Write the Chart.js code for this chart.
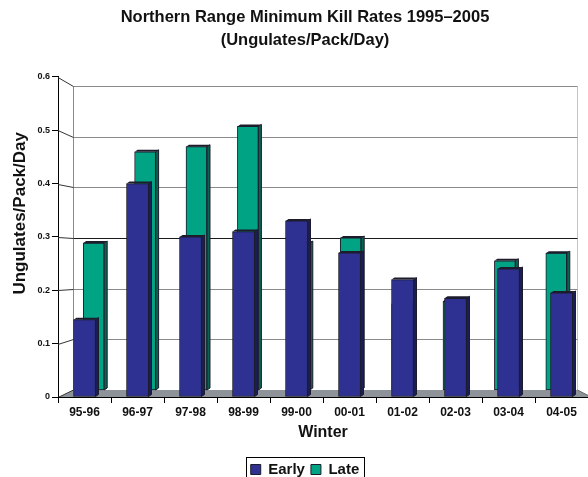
<!DOCTYPE html>
<html><head><meta charset="utf-8">
<script src="https://cdn.jsdelivr.net/npm/chart.js@4/dist/chart.umd.min.js"></script>
<style>html,body{margin:0;padding:0;background:#fff}</style>
</head><body>
<canvas id="c" width="588" height="477"></canvas>
<script>
// ---- data ----
const winters = ['95-96','96-97','97-98','98-99','99-00','00-01','01-02','02-03','03-04','04-05'];
const earlyRates = [0.145, 0.40, 0.30, 0.31, 0.33, 0.27, 0.22, 0.185, 0.24, 0.195];
const lateRates  = [0.29, 0.47, 0.48, 0.52, 0.29, 0.30, 0.17, 0.175, 0.255, 0.27];
const yTickValues = [0, 0.1, 0.2, 0.3, 0.4, 0.5, 0.6];
const yTickLabels = ['0', '0.1', '0.2', '0.3', '0.4', '0.5', '0.6'];
const chartTitle = ['Northern Range Minimum Kill Rates 1995\u20132005', '(Ungulates/Pack/Day)'];
const xTitle = 'Winter';
const yTitle = 'Ungulates/Pack/Day';
const seriesNames = ['Early', 'Late'];

// ---- styles ----
const FONT = '"Liberation Sans", Arial, Helvetica, sans-serif';
const TEXT = '#111';
const EARLY_FILL = '#2e3192', EARLY_SIDE = '#1b1d55';
const LATE_FILL = '#00a383', LATE_SIDE = '#0a6250';
const OUTLINE = '#1c1c2c';
const FLOOR = '#8d9399';
const GRID = '#8a8a8a';
const SIDE = {Early: EARLY_SIDE, Late: LATE_SIDE};
const DEPTH_X = 15, BACK_RIGHT_INSET = 11, BAR_DX = 3, BAR_DY = 2;
const Y_TITLE_SHIFT = ' '.repeat(10); // lifts the rotated axis title toward the top, as in the original

Chart.defaults.font.family = FONT;
Chart.defaults.color = TEXT;

function seg(ctx, x1, y1, x2, y2) { ctx.beginPath(); ctx.moveTo(x1, y1); ctx.lineTo(x2, y2); ctx.stroke(); }

const threeD = {
  id: 'threeD',
  beforeDatasetsDraw(chart) {
    const {ctx, chartArea: ca, scales} = chart;
    const yF = scales.y, yB = scales.y2;
    const bl = ca.left + DEPTH_X + 0.5, br = ca.right - BACK_RIGHT_INSET + 0.5;
    const b0 = yB.getPixelForValue(0), f0 = Math.round(yF.getPixelForValue(0)) + 0.5;
    const bTop = Math.round(yB.getPixelForValue(yTickValues[yTickValues.length - 1])) + 0.5;
    ctx.save();
    ctx.fillStyle = FLOOR;
    ctx.beginPath();
    ctx.moveTo(ca.left, f0); ctx.lineTo(bl, b0); ctx.lineTo(br, b0); ctx.lineTo(ca.right + 4, f0);
    ctx.closePath(); ctx.fill();
    ctx.lineWidth = 1;
    ctx.strokeStyle = GRID; seg(ctx, bl, bTop, bl, b0);
    ctx.strokeStyle = '#c4c4c4'; seg(ctx, br, bTop, br, b0);
    yTickValues.forEach(v => {
      if (v === 0) return;
      const yb = Math.round(yB.getPixelForValue(v)) + 0.5;
      const yf = Math.round(yF.getPixelForValue(v)) + 0.5;
      ctx.strokeStyle = (v === 0.3) ? '#1a1a1a' : GRID;
      seg(ctx, bl, yb, br, yb);
      ctx.strokeStyle = '#333';
      seg(ctx, ca.left, yf, bl, yb);
    });
    ctx.strokeStyle = '#333'; seg(ctx, ca.left, f0, bl, b0);
    ctx.strokeStyle = '#666'; seg(ctx, br, b0, ca.right + 4, f0);
    ctx.strokeStyle = '#000'; seg(ctx, ca.left, f0, ca.right, f0);
    ctx.restore();
  },
  afterDatasetDraw(chart, args) {
    const {ctx} = chart;
    const side = SIDE[chart.data.datasets[args.index].label];
    ctx.save();
    ctx.lineWidth = 1;
    ctx.strokeStyle = OUTLINE;
    args.meta.data.forEach(el => {
      const {x, y, base, width} = el.getProps(['x', 'y', 'base', 'width'], true);
      const r = x + width / 2, l = x - width / 2;
      ctx.fillStyle = side;
      ctx.beginPath();
      ctx.moveTo(r, y); ctx.lineTo(r + BAR_DX, y - BAR_DY); ctx.lineTo(r + BAR_DX, base - BAR_DY); ctx.lineTo(r, base);
      ctx.closePath(); ctx.fill(); ctx.stroke();
      ctx.fillStyle = OUTLINE;
      ctx.beginPath();
      ctx.moveTo(l, y); ctx.lineTo(l + BAR_DX, y - BAR_DY); ctx.lineTo(r + BAR_DX, y - BAR_DY); ctx.lineTo(r, y);
      ctx.closePath(); ctx.fill();
    });
    ctx.restore();
  },
  afterDraw(chart) {
    const {ctx} = chart;
    const hb = chart.legend && chart.legend.legendHitBoxes;
    if (!hb || !hb.length) return;
    const l = Math.min(...hb.map(h => h.left)) - 5;
    const r = Math.max(...hb.map(h => h.left + h.width)) + 4;
    const t = hb[0].top - 5;
    const b = hb[0].top + hb[0].height + 8;
    ctx.save();
    ctx.strokeStyle = '#000'; ctx.lineWidth = 1;
    ctx.strokeRect(Math.round(l) + 0.5, Math.round(t) + 0.5, Math.round(r - l), Math.round(b - t));
    ctx.restore();
  }
};

new Chart(document.getElementById('c'), {
  type: 'bar',
  data: {
    labels: winters,
    datasets: [
      {label: seriesNames[0], data: earlyRates, xAxisID: 'x', yAxisID: 'y', grouped: false,
       backgroundColor: EARLY_FILL, borderColor: OUTLINE, borderWidth: 1, borderSkipped: false, barThickness: 22},
      {label: seriesNames[1], data: lateRates.map((v, i) => ({x: i, y: v})), xAxisID: 'x2', yAxisID: 'y2', grouped: false,
       backgroundColor: LATE_FILL, borderColor: OUTLINE, borderWidth: 1, borderSkipped: false, barThickness: 21}
    ]
  },
  options: {
    responsive: false,
    animation: false,
    devicePixelRatio: 1,
    layout: {padding: {left: 22, right: 0, top: 0, bottom: -10}},
    plugins: {
      title: {display: true, text: chartTitle, color: TEXT,
              font: {size: 16.5, weight: 'bold', lineHeight: 1.45}, padding: {top: 5, bottom: 24}},
      legend: {position: 'bottom',
               labels: {boxWidth: 10, boxHeight: 10, padding: 6, color: TEXT, font: {size: 15, weight: 'bold'}}},
      tooltip: {enabled: false}
    },
    scales: {
      x: {type: 'category', position: 'bottom', offset: true,
          grid: {offset: true, drawOnChartArea: false, drawTicks: true, tickLength: 6, color: '#000'},
          border: {display: true, color: '#000'},
          ticks: {color: TEXT, font: {size: 12, weight: 'bold'}, padding: 2, maxRotation: 0, autoSkip: false},
          title: {display: true, text: xTitle, color: TEXT, font: {size: 16, weight: 'bold'}, padding: {top: 0, bottom: 14}},
          afterFit: s => { s.height = 59; }},
      y: {type: 'linear', position: 'left', min: 0, max: 0.6,
          ticks: {stepSize: 0.1, color: TEXT, font: {size: 9, weight: 'bold'}, padding: 2,
                  callback: v => yTickLabels[Math.round(v * 10)]},
          grid: {drawOnChartArea: false, drawTicks: true, tickLength: 6, color: '#000'},
          border: {display: true, color: '#000'},
          title: {display: true, text: Y_TITLE_SHIFT + yTitle, color: TEXT, font: {size: 17, weight: 'bold', lineHeight: 1}, padding: {top: -10, bottom: 0}},
          afterFit: s => { s.width = 36; }},
      // back-wall plane (perspective depth) used for the Late series
      x2: {type: 'linear', display: false, offset: false, bounds: 'data', min: -0.6946, max: 9.617},
      y2: {type: 'linear', display: false, bounds: 'data', min: -0.0138, max: 0.6178}
    }
  },
  plugins: [threeD]
});
</script>
</body></html>
